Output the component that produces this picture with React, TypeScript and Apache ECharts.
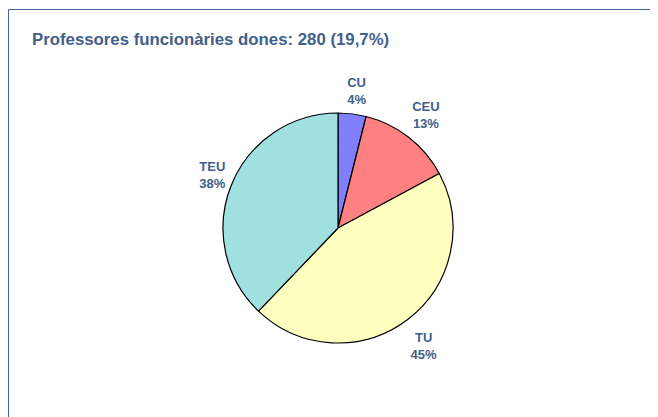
import React, { useEffect, useRef } from "react";
import * as echarts from "echarts";

const titleText = "Professores funcionàries dones: 280 (19,7%)";
const categories = ["CU", "CEU", "TU", "TEU"];
const values = [11, 37, 126, 106];
const colors = ["#8080FF", "#FF8080", "#FFFFC0", "#A0E0E0"];

export default function App() {
  const ref = useRef<HTMLDivElement>(null);
  useEffect(() => {
    if (!ref.current) return;
    const chart = echarts.init(ref.current, null, { renderer: "svg" });
    const data = categories.map((c, i) => ({
      name: c,
      value: values[i],
      itemStyle: { color: colors[i] },
    }));
    const nudge: Record<string, [number, number]> = {
      CU: [1, 5],
      CEU: [0, 0],
      TU: [-1, 4],
      TEU: [7, 0],
    };
    chart.setOption({
      animation: false,
      backgroundColor: "#ffffff",
      title: {
        text: titleText,
        left: 19,
        top: 18,
        textStyle: {
          fontFamily: "Liberation Sans, Arial, sans-serif",
          fontSize: 16.8,
          fontWeight: "bold",
          color: "#41608C",
        },
      },
      graphic: [
        {
          type: "rect",
          shape: { x: 0.5, y: 1.5, width: 800, height: 600 },
          style: { fill: "none", stroke: "#3C6699", lineWidth: 1 },
          silent: true,
        },
      ],
      series: [
        {
          type: "pie",
          center: [330, 220],
          radius: [0, 115],
          startAngle: 90,
          clockwise: true,
          silent: true,
          label: { show: false },
          labelLine: { show: false },
          itemStyle: { borderColor: "#000000", borderWidth: 1.2 },
          data,
        },
        {
          type: "pie",
          center: [330, 220],
          radius: [130, 150],
          startAngle: 90,
          clockwise: true,
          silent: true,
          itemStyle: { color: "transparent", borderWidth: 0 },
          labelLine: { show: false },
          labelLayout: (p: any) => {
            const n = nudge[categories[p.dataIndex]] || [0, 0];
            return { dx: n[0], dy: n[1] };
          },
          label: {
            show: true,
            position: "inside",
            formatter: (p: any) => `${p.name}\n${Math.round(p.percent)}%`,
            fontFamily: "Liberation Sans, Arial, sans-serif",
            fontSize: 13,
            fontWeight: "bold",
            lineHeight: 17,
            color: "#41608C",
            align: "center",
          },
          data: categories.map((c, i) => ({
            name: c,
            value: values[i],
            itemStyle: { color: "transparent" },
          })),
        },
      ],
    });
    return () => chart.dispose();
  }, []);
  return <div ref={ref} style={{ width: 650, height: 409 }} />;
}
